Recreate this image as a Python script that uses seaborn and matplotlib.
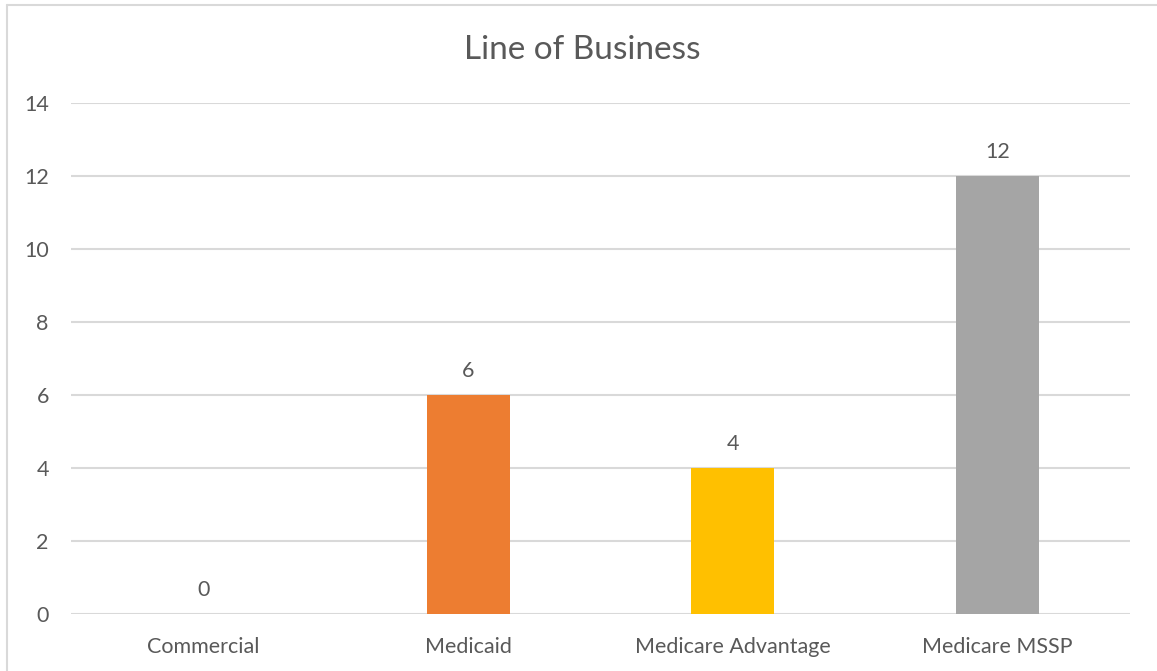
import matplotlib
matplotlib.use("Agg")
import matplotlib.pyplot as plt
from matplotlib.lines import Line2D
import seaborn as sns
import pandas as pd

categories = ["Commercial", "Medicaid", "Medicare Advantage", "Medicare MSSP"]
counts = [0, 6, 4, 12]
bar_colors = ["#4472C4", "#ED7D31", "#FFC000", "#A5A5A5"]
y_ticks = [0, 2, 4, 6, 8, 10, 12, 14]
title = "Line of Business"

text_color = "#595959"
grid_color = "#D9D9D9"

sns.set_theme(style="white")
plt.rcParams["font.family"] = ["Lato", "DejaVu Sans"]

df = pd.DataFrame({"category": categories, "count": counts})

fig = plt.figure(figsize=(11.57, 6.71), dpi=100)
ax = fig.add_axes([71 / 1157, 1 - 614 / 671, (1130 - 71) / 1157, (614 - 103) / 671])

sns.barplot(data=df, x="category", y="count", hue="category",
            palette=bar_colors, width=0.313, legend=False, ax=ax,
            saturation=1, errorbar=None, linewidth=0)

ax.set_ylim(0, 14)
ax.set_yticks(y_ticks)
ax.set_xlim(-0.5, len(categories) - 0.5)
ax.set_xlabel("")
ax.set_ylabel("")

for y in y_ticks:
    ax.axhline(y, color=grid_color, lw=1.5, zorder=0)

for c in ax.containers:
    ax.bar_label(c, fmt="%g", padding=10, fontsize=15.5, color=text_color)

for s in ax.spines.values():
    s.set_visible(False)
ax.tick_params(axis="both", length=0, labelsize=15.5, labelcolor=text_color)
ax.tick_params(axis="y", pad=16)
ax.tick_params(axis="x", pad=16.5)

fig.text(582 / 1157, 1 - 50 / 671, title, ha="center", va="center",
         fontsize=24, color=text_color)

# chart-area border (top and left edges visible)
fig.add_artist(Line2D([6.5 / 1157, 6.5 / 1157], [0, 1 - 4.5 / 671],
                      transform=fig.transFigure, color=grid_color, lw=1.5))
fig.add_artist(Line2D([6.5 / 1157, 1], [1 - 4.5 / 671, 1 - 4.5 / 671],
                      transform=fig.transFigure, color=grid_color, lw=1.5))

fig.savefig("out.png", dpi=100, facecolor="white")
